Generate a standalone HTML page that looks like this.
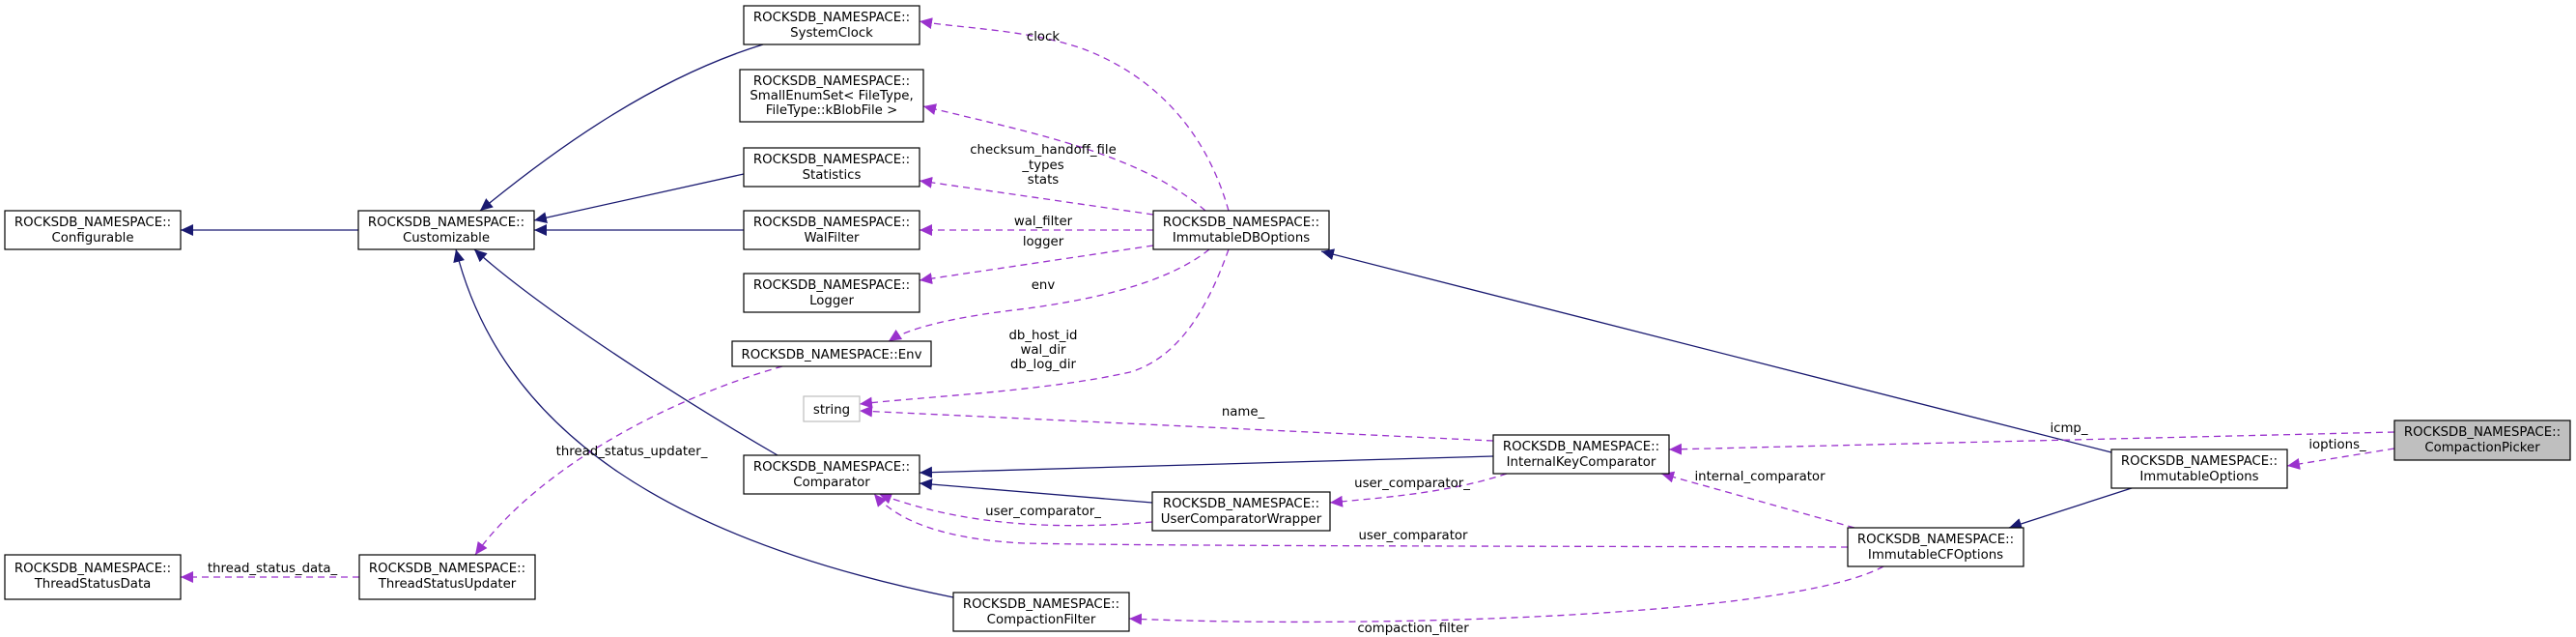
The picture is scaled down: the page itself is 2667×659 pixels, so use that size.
<!DOCTYPE html>
<html><head><meta charset="utf-8"><style>
html,body{margin:0;padding:0;background:#fff;}
svg{display:block;}
text{font-family:"DejaVu Sans","Liberation Sans",sans-serif;font-size:13.3px;fill:#000;}
.n{fill:#fff;stroke:#000;stroke-width:1.2;}
.s{fill:none;stroke:#191970;stroke-width:1.3;}
.d{fill:none;stroke:#9a32cd;stroke-width:1.3;stroke-dasharray:7,5;}
</style></head><body>
<svg width="2667" height="659" viewBox="0 0 2667 659" xmlns="http://www.w3.org/2000/svg">
<defs>
<marker id="an" markerUnits="userSpaceOnUse" markerWidth="14" markerHeight="12" refX="13" refY="6" orient="auto"><path d="M0,0 L13,6 L0,12 z" fill="#191970"/></marker>
<marker id="ap" markerUnits="userSpaceOnUse" markerWidth="14" markerHeight="12" refX="13" refY="6" orient="auto"><path d="M0,0 L13,6 L0,12 z" fill="#9a32cd"/></marker>
</defs>

<!-- solid edges -->
<path class="s" marker-end="url(#an)" d="M371,238 L187,238"/>
<path class="s" marker-end="url(#an)" d="M790,46 C680,80 580,150 497,218"/>
<path class="s" marker-end="url(#an)" d="M770,180 L553,228"/>
<path class="s" marker-end="url(#an)" d="M770,238 L553,238"/>
<path class="s" marker-end="url(#an)" d="M805,471 C700,410 560,320 491,258"/>
<path class="s" marker-end="url(#an)" d="M987,618 C700,560 520,450 472,258"/>
<path class="s" marker-end="url(#an)" d="M1546,472 L952,489"/>
<path class="s" marker-end="url(#an)" d="M1193,520 L952,500"/>
<path class="s" marker-end="url(#an)" d="M2186,468 L1368,260"/>
<path class="s" marker-end="url(#an)" d="M2210,504 L2080,546"/>

<!-- dashed edges -->
<path class="d" marker-end="url(#ap)" d="M1272,218 C1250,140 1200,80 1120,50 C1060,30 1000,30 952,22"/>
<path class="d" marker-end="url(#ap)" d="M1248,218 C1180,160 1080,140 956,110"/>
<path class="d" marker-end="url(#ap)" d="M1194,222 L952,187"/>
<path class="d" marker-end="url(#ap)" d="M1194,238 L952,238"/>
<path class="d" marker-end="url(#ap)" d="M1194,254 L952,290"/>
<path class="d" marker-end="url(#ap)" d="M1252,258 C1200,300 1100,315 1040,322 C980,330 940,340 920,353"/>
<path class="d" marker-end="url(#ap)" d="M1272,258 C1250,320 1220,370 1170,385 C1080,405 960,410 890,418"/>
<path class="d" marker-end="url(#ap)" d="M1546,456 L890,425"/>
<path class="d" marker-end="url(#ap)" d="M2479,447 L1728,465"/>
<path class="d" marker-end="url(#ap)" d="M2479,464 L2368,482"/>
<path class="d" marker-end="url(#ap)" d="M1560,490 C1500,510 1430,515 1377,520"/>
<path class="d" marker-end="url(#ap)" d="M1193,540 C1100,548 1000,545 910,511"/>
<path class="d" marker-end="url(#ap)" d="M1913,566 C1600,565 1200,565 1060,562 C980,558 930,540 905,511"/>
<path class="d" marker-end="url(#ap)" d="M1920,546 L1720,490"/>
<path class="d" marker-end="url(#ap)" d="M1950,586 C1850,640 1400,650 1169,640"/>
<path class="d" marker-end="url(#ap)" d="M372,597 L187,597"/>
<path class="d" marker-end="url(#ap)" d="M810,379 C700,410 560,480 492,574"/>

<!-- edge labels -->
<g text-anchor="middle">
<text x="1080" y="42">clock</text>
<text x="1080" y="159">checksum_handoff_file</text>
<text x="1080" y="175">_types</text>
<text x="1080" y="190">stats</text>
<text x="1080" y="233">wal_filter</text>
<text x="1080" y="254">logger</text>
<text x="1080" y="299">env</text>
<text x="1080" y="351">db_host_id</text>
<text x="1080" y="366">wal_dir</text>
<text x="1080" y="381">db_log_dir</text>
<text x="1287" y="430">name_</text>
<text x="2142" y="447">icmp_</text>
<text x="2420" y="464">ioptions_</text>
<text x="1462" y="504">user_comparator_</text>
<text x="1822" y="497">internal_comparator</text>
<text x="1080" y="533">user_comparator_</text>
<text x="1463" y="558">user_comparator</text>
<text x="1463" y="654">compaction_filter</text>
<text x="282" y="592">thread_status_data_</text>
<text x="654" y="471">thread_status_updater_</text>
</g>

<!-- nodes -->
<g text-anchor="middle">
<rect class="n" x="5" y="218" width="182" height="40"/><text x="96" y="234">ROCKSDB_NAMESPACE::</text><text x="96" y="250">Configurable</text>
<rect class="n" x="371" y="218" width="182" height="40"/><text x="462" y="234">ROCKSDB_NAMESPACE::</text><text x="462" y="250">Customizable</text>
<rect class="n" x="770" y="6" width="182" height="40"/><text x="861" y="22">ROCKSDB_NAMESPACE::</text><text x="861" y="38">SystemClock</text>
<rect class="n" x="766" y="72" width="190" height="54"/><text x="861" y="88">ROCKSDB_NAMESPACE::</text><text x="861" y="103">SmallEnumSet&lt; FileType,</text><text x="861" y="118">FileType::kBlobFile &gt;</text>
<rect class="n" x="770" y="153" width="182" height="40"/><text x="861" y="169">ROCKSDB_NAMESPACE::</text><text x="861" y="185">Statistics</text>
<rect class="n" x="770" y="218" width="182" height="40"/><text x="861" y="234">ROCKSDB_NAMESPACE::</text><text x="861" y="250">WalFilter</text>
<rect class="n" x="770" y="283" width="182" height="40"/><text x="861" y="299">ROCKSDB_NAMESPACE::</text><text x="861" y="315">Logger</text>
<rect class="n" x="758" y="353" width="206" height="26"/><text x="861" y="371">ROCKSDB_NAMESPACE::Env</text>
<rect x="832" y="410" width="58" height="26" fill="#fff" stroke="#bfbfbf" stroke-width="1.2"/><text x="861" y="428">string</text>
<rect class="n" x="770" y="471" width="182" height="40"/><text x="861" y="487">ROCKSDB_NAMESPACE::</text><text x="861" y="503">Comparator</text>
<rect class="n" x="5" y="574" width="182" height="46"/><text x="96" y="592">ROCKSDB_NAMESPACE::</text><text x="96" y="608">ThreadStatusData</text>
<rect class="n" x="372" y="574" width="182" height="46"/><text x="463" y="592">ROCKSDB_NAMESPACE::</text><text x="463" y="608">ThreadStatusUpdater</text>
<rect class="n" x="987" y="613" width="182" height="40"/><text x="1078" y="629">ROCKSDB_NAMESPACE::</text><text x="1078" y="645">CompactionFilter</text>
<rect class="n" x="1194" y="218" width="182" height="40"/><text x="1285" y="234">ROCKSDB_NAMESPACE::</text><text x="1285" y="250">ImmutableDBOptions</text>
<rect class="n" x="1193" y="509" width="184" height="40"/><text x="1285" y="525">ROCKSDB_NAMESPACE::</text><text x="1285" y="541">UserComparatorWrapper</text>
<rect class="n" x="1546" y="450" width="182" height="40"/><text x="1637" y="466">ROCKSDB_NAMESPACE::</text><text x="1637" y="482">InternalKeyComparator</text>
<rect class="n" x="1913" y="546" width="182" height="40"/><text x="2004" y="562">ROCKSDB_NAMESPACE::</text><text x="2004" y="578">ImmutableCFOptions</text>
<rect class="n" x="2186" y="465" width="182" height="40"/><text x="2277" y="481">ROCKSDB_NAMESPACE::</text><text x="2277" y="497">ImmutableOptions</text>
<rect x="2479" y="435" width="182" height="41" fill="#bfbfbf" stroke="#000" stroke-width="1.2"/><text x="2570" y="451">ROCKSDB_NAMESPACE::</text><text x="2570" y="467">CompactionPicker</text>
</g>
</svg>
</body></html>
